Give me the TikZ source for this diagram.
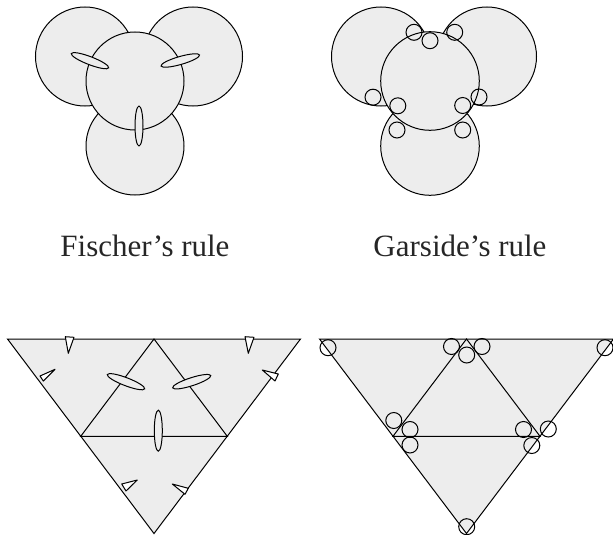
\documentclass[tikz,border=0pt]{standalone}
\usepackage{fontspec}
\setmainfont{Liberation Serif}
\definecolor{paper}{HTML}{EDEDED}
\tikzset{
  big/.style={draw=black,fill=paper,line width=1pt},
  ring/.style={draw=black,line width=1pt},
  lens/.style={draw=black,fill=paper,line width=1pt},
  wedge/.style={draw=black,fill=white,line width=1pt,line join=round},
  edge/.style={draw=black,line width=1pt},
  lbl/.style={font=\fontsize{31}{36}\selectfont,anchor=base,inner sep=0pt,text=black!85}
}
\begin{document}
\begin{tikzpicture}[x=1pt,y=1pt]
\useasboundingbox (0,0) rectangle (613,-535);
% ---------- Fischer circles ----------
\draw[big] (85,-56.5) circle[radius=49.5pt];
\draw[big] (193,-56.5) circle[radius=49.5pt];
\draw[big] (135,-146) circle[radius=49pt];
\draw[big] (135,-81) circle[radius=49pt];
\draw[lens,rotate around={-21:(90,-60.7)}] (90,-60.7) ellipse[x radius=20pt,y radius=4pt];
\draw[lens,rotate around={16:(180.3,-60.5)}] (180.3,-60.5) ellipse[x radius=20pt,y radius=4pt];
\draw[lens] (139,-126) ellipse[x radius=4pt,y radius=20pt];
% ---------- Garside circles ----------
\draw[big] (381,-56.5) circle[radius=49.5pt];
\draw[big] (487,-56.5) circle[radius=49.5pt];
\draw[big] (430,-146) circle[radius=49.3pt];
\draw[big] (430,-81) circle[radius=49.3pt];
\foreach \p in {(414,-32.3),(430,-40.7),(454.7,-32.3),(373,-97.2),(397.8,-105.8),(397,-130),(462.7,-105.5),(479,-97),(462.7,-130)}
  \draw[ring] \p circle[radius=8pt];
% ---------- labels ----------
\node[lbl] (fischer) at (145,-256) {Fischer’s rule};
\node[lbl] (garside) at (460,-256) {Garside’s rule};
% ---------- Fischer triangle ----------
\coordinate (A1) at (7.5,-339);
\coordinate (B1) at (154,-339);
\coordinate (C1) at (300.5,-339);
\coordinate (D1) at (154,-533.5);
\coordinate (E1) at (80.75,-436.25);
\coordinate (F1) at (227.25,-436.25);
\fill[paper] (A1) -- (C1) -- (D1) -- cycle;
\draw[edge] (A1) -- (C1) -- (D1) -- cycle;
\draw[edge] (E1) -- (B1) -- (F1) -- cycle;
\draw[wedge] (65.3,-336.7) -- (74,-337.3) -- (68.3,-353.3) -- cycle;
\draw[wedge] (245,-336.7) -- (254,-337.3) -- (248.3,-353.3) -- cycle;
\draw[wedge] (40,-376) -- (43.3,-381) -- (55,-369.3) -- cycle;
\draw[wedge] (262.3,-370) -- (278.3,-374) -- (275,-381) -- cycle;
\draw[wedge] (121.7,-484) -- (126,-491) -- (137.3,-480) -- cycle;
\draw[wedge] (172.3,-484) -- (188.3,-488.3) -- (185,-494.3) -- cycle;
\draw[lens,rotate around={-21:(126,-381.7)}] (126,-381.7) ellipse[x radius=20pt,y radius=4pt];
\draw[lens,rotate around={18:(191.7,-381.7)}] (191.7,-381.7) ellipse[x radius=20pt,y radius=4pt];
\draw[lens] (158.3,-430.7) ellipse[x radius=4pt,y radius=20.5pt];
% ---------- Garside triangle ----------
\coordinate (A2) at (319.5,-339);
\coordinate (B2) at (466.5,-339);
\coordinate (C2) at (613.5,-339);
\coordinate (D2) at (466.5,-533.5);
\coordinate (E2) at (393,-436.25);
\coordinate (F2) at (540,-436.25);
\fill[paper] (A2) -- (C2) -- (D2) -- cycle;
\draw[edge] (A2) -- (C2) -- (D2) -- cycle;
\draw[edge] (E2) -- (B2) -- (F2) -- cycle;
\foreach \p in {(328,-347.7),(451.5,-346.5),(482,-346.5),(466.7,-355),(605,-347.7),(393.8,-420.5),(410,-429.5),(410,-445),(523.5,-429.5),(548.3,-429),(531.8,-445.5),(466.7,-526.7)}
  \draw[ring] \p circle[radius=8pt];
\end{tikzpicture}
\end{document}
